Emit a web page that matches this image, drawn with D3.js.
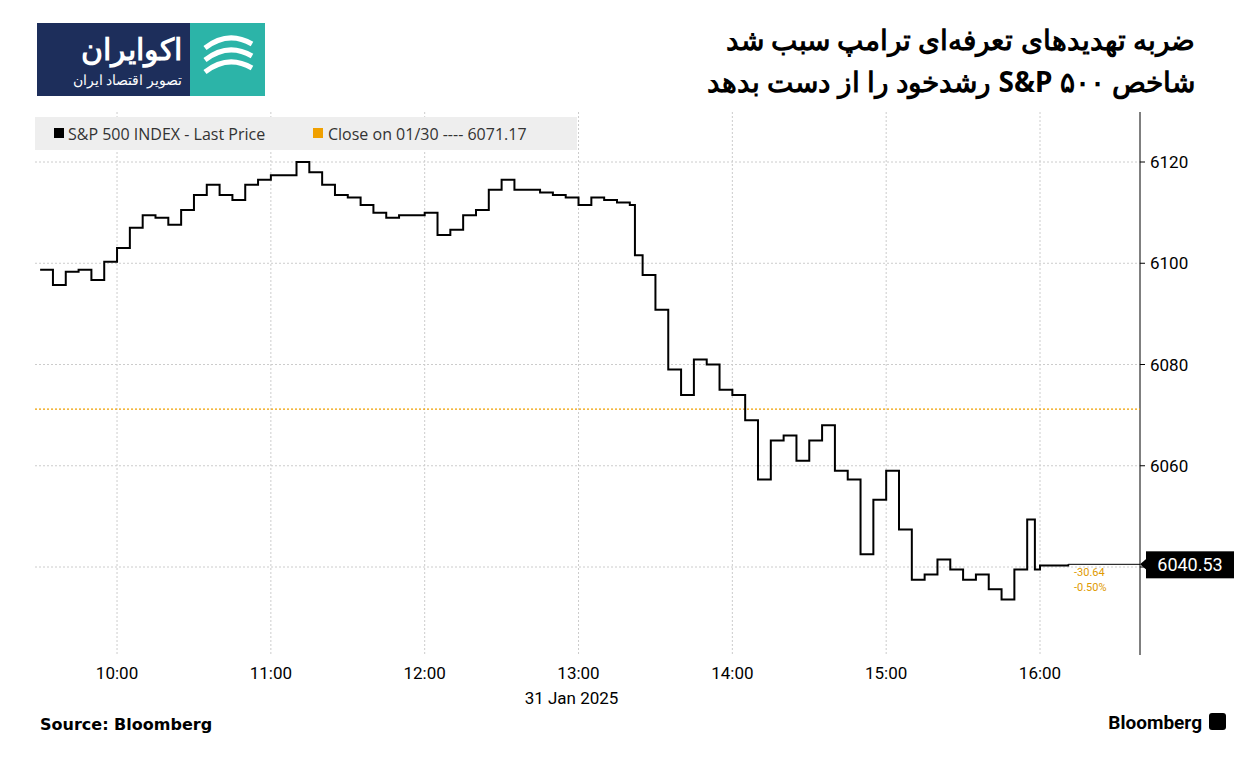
<!DOCTYPE html><html><head><meta charset="utf-8"><script src="https://cdn.jsdelivr.net/npm/d3@7"></script>
<style>body{margin:0;background:#fff}</style></head><body><svg id="c" width="1234" height="759"></svg>
<script>
const times=["09:30","09:35","09:40","09:45","09:50","09:55","10:00","10:05","10:10","10:15","10:20","10:25","10:30","10:35","10:40","10:45","10:50","10:55","11:00","11:05","11:10","11:15","11:20","11:25","11:30","11:35","11:40","11:45","11:50","11:55","12:00","12:05","12:10","12:15","12:20","12:25","12:30","12:35","12:40","12:45","12:50","12:55","13:00","13:05","13:10","13:15","13:20","13:22","13:25","13:30","13:35","13:40","13:45","13:50","13:55","14:00","14:05","14:10","14:15","14:20","14:25","14:30","14:35","14:40","14:45","14:50","14:55","15:00","15:05","15:10","15:15","15:20","15:25","15:30","15:35","15:40","15:45","15:50","15:55","15:58","16:00","16:11"];
const prices=[6098.7,6095.7,6098.3,6098.7,6096.7,6100.3,6103,6107,6109.5,6109,6107.6,6110.5,6113.5,6115.5,6113.5,6112.5,6115.5,6116.5,6117.4,6117.4,6120,6118,6115.5,6113.5,6113,6111.5,6110,6109,6109.5,6109.5,6110,6105.6,6106.6,6109.5,6110.5,6114.5,6116.5,6114.5,6114.5,6114,6113.5,6113,6111.5,6113,6112.5,6112,6111.5,6101.6,6097.7,6090.8,6079,6074,6081,6080,6075,6074,6069,6057.3,6065,6066,6061,6065,6068,6059,6057.3,6042.5,6053.3,6059,6047.4,6037.5,6038.5,6041.5,6039.5,6037.5,6038.5,6035.6,6033.6,6039.5,6049.4,6039.5,6040.3,6040.53];
const yTicks=[6040,6060,6080,6100,6120];
const xTicks=["10:00","11:00","12:00","13:00","14:00","15:00","16:00"];
const prevClose=6071.17, last=6040.53;
const svg=d3.select("#c");
const pt=d3.timeParse("%H:%M");
const x=d3.scaleTime().domain([pt("09:28"),pt("16:39")]).range([35,1140]);
const y=d3.scaleLinear().domain([6040,6120]).range([567,162]);
const L=35,R=1140,T=112,B=655;
svg.append("g").selectAll("line").data(xTicks).join("line").attr("x1",d=>x(pt(d))).attr("x2",d=>x(pt(d))).attr("y1",T).attr("y2",B).attr("stroke","#ccc").attr("stroke-dasharray","2,2");
svg.append("g").selectAll("line").data(yTicks).join("line").attr("x1",L).attr("x2",R).attr("y1",d=>y(d)).attr("y2",d=>y(d)).attr("stroke","#ccc").attr("stroke-dasharray","2,2");
svg.append("line").attr("x1",R).attr("x2",R).attr("y1",T).attr("y2",B).attr("stroke","#000");
svg.append("g").selectAll("line").data(yTicks).join("line").attr("x1",R).attr("x2",R+5).attr("y1",d=>y(d)).attr("y2",d=>y(d)).attr("stroke","#000");
svg.append("g").selectAll("text").data(yTicks.filter(d=>d!==6040)).join("text").attr("x",R+10).attr("y",d=>y(d)+6).text(d=>d).attr("font-family","Roboto").attr("font-size",17);
svg.append("g").selectAll("text").data(xTicks).join("text").attr("x",d=>x(pt(d))).attr("y",679).attr("text-anchor","middle").text(d=>d).attr("font-family","Roboto").attr("font-size",17);
svg.append("text").attr("x",x(pt("13:00"))-7).attr("y",704).attr("text-anchor","middle").text("31 Jan 2025").attr("font-family","Roboto").attr("font-size",17);
svg.append("line").attr("x1",L).attr("x2",R).attr("y1",y(prevClose)).attr("y2",y(prevClose)).attr("stroke","#f0a000").attr("stroke-dasharray","2,2").attr("stroke-width",1.3);
const data=times.map((t,i)=>[pt(t),prices[i]]);
svg.append("path").datum(data).attr("d",d3.line().x(d=>x(d[0])).y(d=>y(d[1])).curve(d3.curveStepAfter)).attr("fill","none").attr("stroke","#000").attr("stroke-width",2);
svg.append("line").attr("x1",x(pt("16:11"))).attr("x2",R).attr("y1",y(last)).attr("y2",y(last)).attr("stroke","#000").attr("stroke-width",1);
svg.append("rect").attr("x",R+6).attr("y",y(last)-13).attr("width",88).attr("height",27).attr("fill","#000");
svg.append("path").attr("d",`M${R},${y(last)} L${R+7},${y(last)-6} L${R+7},${y(last)+6}Z`).attr("fill","#000");
svg.append("text").attr("x",R+50).attr("y",y(last)+7).attr("text-anchor","middle").attr("fill","#fff").text(last.toFixed(2)).attr("font-family","Roboto").attr("font-size",18);
svg.append("text").attr("x",1074).attr("y",576).text((last-prevClose).toFixed(2)).attr("fill","#e09a00").attr("font-family","Roboto").attr("font-size",11);
svg.append("text").attr("x",1074).attr("y",591).text(((last-prevClose)/prevClose*100).toFixed(2)+"%").attr("fill","#e09a00").attr("font-family","Roboto").attr("font-size",11);
svg.append("rect").attr("x",35).attr("y",117).attr("width",542).attr("height",33).attr("fill","#eee");
svg.append("rect").attr("x",54).attr("y",128).attr("width",10).attr("height",10).attr("fill","#000");
svg.append("text").attr("x",68).attr("y",140).text("S&P 500 INDEX - Last Price").attr("fill","#333").attr("font-family","Open Sans").attr("font-size",16);
svg.append("rect").attr("x",313).attr("y",128).attr("width",10).attr("height",10).attr("fill","#f0a000");
svg.append("text").attr("x",328).attr("y",140).text("Close on 01/30 ---- 6071.17").attr("fill","#333").attr("font-family","Open Sans").attr("font-size",16);
const tt=svg.append("g").attr("font-family","Noto Sans").attr("font-weight","bold").attr("font-size",28).attr("text-anchor","start").attr("direction","rtl");
tt.append("text").attr("x",1195).attr("y",50).text("ضربه تهدیدهای تعرفه‌ای ترامپ سبب شد");
tt.append("text").attr("x",1195).attr("y",92).text("شاخص S&P ۵۰۰ رشدخود را از دست بدهد");
svg.append("rect").attr("x",37).attr("y",23).attr("width",228).attr("height",73).attr("fill","#1d2e5b");
svg.append("rect").attr("x",190).attr("y",23).attr("width",75).attr("height",73).attr("fill","#2cb4a8");
svg.append("text").attr("x",182).attr("y",60).attr("text-anchor","end").attr("fill","#fff").attr("font-family","Noto Sans").attr("font-weight","bold").attr("font-size",30).text("اکوایران");
svg.append("text").attr("x",182).attr("y",85).attr("text-anchor","end").attr("fill","#fff").attr("font-family","Noto Sans").attr("font-size",14).text("تصویر اقتصاد ایران");
[0,1,2].forEach(i=>svg.append("path").attr("d",`M205,${48+i*12} Q228,${30+i*12} 252,${44+i*12}`).attr("stroke","#fff").attr("stroke-width",5).attr("fill","none"));
svg.append("text").attr("x",40).attr("y",730).text("Source: Bloomberg").attr("font-family","DejaVu Sans").attr("font-weight","bold").attr("font-size",16);
svg.append("text").attr("x",1202).attr("y",729).attr("text-anchor","end").text("Bloomberg").attr("font-family","Roboto").attr("font-weight","bold").attr("font-size",19);
svg.append("rect").attr("x",1209).attr("y",713).attr("width",17).attr("height",17).attr("rx",3).attr("fill","#000");
</script></body></html>
